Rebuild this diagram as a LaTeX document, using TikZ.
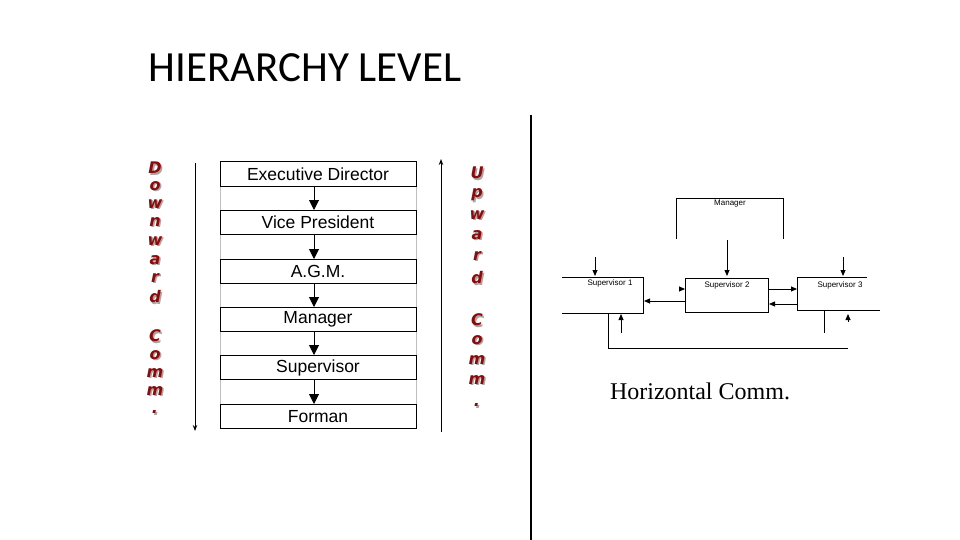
\documentclass[tikz,border=0pt]{standalone}
\usepackage{fontspec}
\setmainfont{Liberation Sans}
\newfontfamily\titlefont{Carlito}
\newfontfamily\timesfont{Liberation Serif}
\newfontfamily\heavyfont{DejaVu Sans}
\usetikzlibrary{arrows.meta}
\definecolor{dred}{HTML}{8B0A0A}
\begin{document}
\begin{tikzpicture}[x=1pt,y=-1pt,
  hbox/.style={draw,line width=1pt,minimum width=196pt,minimum height=24pt,inner sep=0pt,font=\fontsize{17.5}{17.5}\selectfont},
  sbox/.style={inner sep=0pt,font=\fontsize{8}{8}\selectfont},
  harr/.style={-{Triangle[length=10pt,width=10pt]},line width=1pt},
  sarr/.style={-{Triangle[length=6pt,width=5pt]},line width=0.8pt},
  vlet/.style={font=\heavyfont\fontsize{16}{16}\selectfont\bfseries\itshape,text=dred,inner sep=0pt}]
\useasboundingbox (0,0) rectangle (960,540);
\node[anchor=west,font=\titlefont\fontsize{43}{43}\selectfont] (title) at (145,68) {HIERARCHY LEVEL};
\draw[line width=1.2pt] (531,115) coordinate (s1) -- (531,540) coordinate (s2);
% hierarchy
\draw[gray!50,line width=0.8pt] (220,174) -- (220,416) (416,174) -- (416,416);
\node[hbox,fill=white] (h1) at (318,174) {Executive Director};
\node[hbox,fill=white] (h2) at (318,222.5) {Vice President};
\node[hbox,fill=white] (h3) at (318,271.5) {A.G.M.};
\node[hbox,fill=white] (h4) at (318,319.5) {Manager};
\node[hbox,fill=white] (h5) at (318,367.5) {Supervisor};
\node[hbox,fill=white] (h6) at (318,416.5) {Forman};
\foreach \a/\b in {h1/h2,h2/h3,h3/h4,h4/h5,h5/h6}
  \draw[harr] ([xshift=-4pt]\a.south) -- ([xshift=-4pt]\b.north);
\coordinate (dl1) at (195,163); \coordinate (dl2) at (195,431);
\draw[-{Stealth[length=6pt]},line width=1pt] (dl1) -- (dl2);
\coordinate (ul1) at (441,432); \coordinate (ul2) at (441,159);
\draw[-{Stealth[length=6pt]},line width=1pt] (ul1) -- (ul2);
\foreach \l/\y in {D/168,o/186,w/204,n/222,w/241,a/260,r/278,d/297,C/336,o/355,m/373,m/391,./412}{
  \node[vlet,text=gray!70] at (156.5,\y+1.5) {\l};
  \node[vlet] at (155,\y) {\l};}
\foreach \l/\y in {U/173,p/195,w/215,a/235,r/256,d/278,C/320,o/340,m/360,m/380,./405}{
  \node[vlet,text=gray!70] at (478.5,\y+1.5) {\l};
  \node[vlet] at (477,\y) {\l};}
% horizontal comm
\draw[line width=0.6pt] (676,239) -- (676,198) -- (783,198) -- (783,239);
\node[sbox] (mgr) at (730,204) {Manager};
\node[sbox] (s2) at (727,285) {Supervisor 2};
\draw[line width=0.6pt] (685,278) rectangle (768,312);
\node[sbox] (sp1) at (610,283) {Supervisor 1};
\draw[line width=0.6pt] (562,277) -- (643,277) -- (643,313) -- (562,313);
\node[sbox] (sp3) at (840,285) {Supervisor 3};
\draw[line width=0.6pt] (867,277) -- (797,277) -- (797,310) -- (880,310);
\coordinate (m1) at (727,240); \coordinate (m2) at (727,276);
\draw[sarr] (m1) -- (m2);
\coordinate (a1) at (595,257); \coordinate (a2) at (595,276);
\draw[sarr] (a1) -- (a2);
\coordinate (b1) at (843,257); \coordinate (b2) at (843,276);
\draw[sarr] (b1) -- (b2);
\coordinate (c1) at (685,301); \coordinate (c2) at (644,301);
\draw[sarr] (c1) -- (c2);
\coordinate (d1) at (768,289); \coordinate (d2) at (797,289);
\draw[sarr] (d1) -- (d2);
\coordinate (e1) at (797,304); \coordinate (e2) at (769,304);
\draw[sarr] (e1) -- (e2);
\coordinate (f1) at (681,289); \coordinate (f2) at (685,289);
\draw[sarr] (f1) -- (f2);
\coordinate (g1) at (621,333); \coordinate (g2) at (621,314);
\draw[sarr] (g1) -- (g2);
\draw[line width=0.6pt] (608,313) -- (608,348) -- (848,348);
\draw[line width=0.6pt] (824,310) -- (824,333);
\coordinate (t1) at (848,322); \coordinate (t2) at (848,314);
\draw[sarr] (t1) -- (t2);
\node[font=\timesfont\fontsize{24}{24}\selectfont] (hc) at (700,391) {Horizontal Comm.};
\end{tikzpicture}
\end{document}
